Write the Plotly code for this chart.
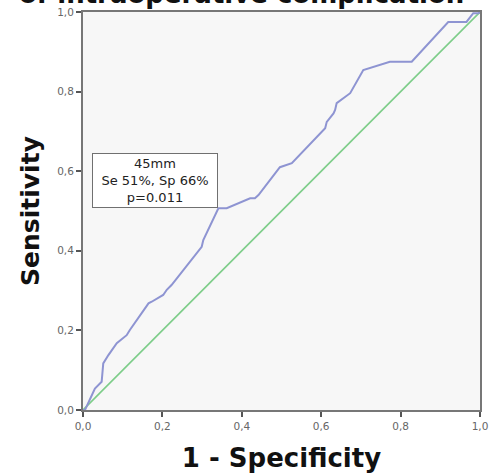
import plotly.graph_objects as go

# ROC curve
fpr = [0, 0.005, 0.030, 0.047, 0.051, 0.064, 0.085, 0.11, 0.118, 0.165, 0.173, 0.202,
       0.211, 0.223, 0.299, 0.303, 0.341, 0.362, 0.421, 0.433, 0.442, 0.496, 0.526,
       0.610, 0.614, 0.626, 0.631, 0.635, 0.639, 0.673, 0.706, 0.773, 0.828, 0.920,
       0.966, 0.983, 0.996, 1.0]
tpr = [0, 0, 0.054, 0.071, 0.117, 0.138, 0.168, 0.188, 0.201, 0.268, 0.272, 0.289,
       0.302, 0.314, 0.410, 0.427, 0.507, 0.507, 0.532, 0.532, 0.540, 0.610, 0.620,
       0.708, 0.724, 0.737, 0.745, 0.754, 0.771, 0.796, 0.854, 0.875, 0.875, 0.975,
       0.975, 0.997, 0.997, 1.0]

# reference diagonal
diag_x = [0, 1]
diag_y = [0, 1]

# cut-off point (1 - Sp, Se)
cut_fpr = 0.34
cut_tpr = 0.507
cut_label = "45mm<br>Se 51%, Sp 66%<br>p=0.011"

tick_vals = [0, 0.2, 0.4, 0.6, 0.8, 1.0]
tick_text = ["0,0", "0,2", "0,4", "0,6", "0,8", "1,0"]

title_text = "of intraoperative complication"
x_title = "1 - Specificity"
y_title = "Sensitivity"

fig = go.Figure()
fig.add_trace(go.Scatter(x=diag_x, y=diag_y, mode="lines",
                         line=dict(color="#7dcd89", width=1.6), showlegend=False))
fig.add_trace(go.Scatter(x=fpr, y=tpr, mode="lines",
                         line=dict(color="#8e94d2", width=2), showlegend=False))

fig.add_annotation(x=cut_fpr, y=cut_tpr, xref="x", yref="y", text=cut_label,
                   showarrow=False, xanchor="right", yanchor="bottom",
                   width=124, height=53, align="center", valign="middle",
                   bgcolor="white", bordercolor="#707070", borderwidth=1, borderpad=0,
                   font=dict(family="DejaVu Sans", size=13, color="#222"))

fig.add_annotation(x=0.40, y=1, xref="paper", yref="paper", text="<b>" + title_text + "</b>",
                   showarrow=False, xanchor="center", yanchor="bottom", yshift=1,
                   font=dict(family="DejaVu Sans", size=26, color="#111"))

axis_common = dict(range=[0, 1], tickvals=tick_vals, ticktext=tick_text,
                   showgrid=False, zeroline=False, showline=True, mirror=True,
                   linecolor="#777777", linewidth=2, ticks="outside", ticklen=5,
                   tickwidth=1.5, tickcolor="#555555", automargin=False,
                   tickfont=dict(family="DejaVu Sans", size=10.5, color="#666666"))

fig.update_xaxes(**axis_common,
                 title=dict(text="<b>" + x_title + "</b>", standoff=18,
                            font=dict(family="DejaVu Sans", size=26, color="#111")))
fig.update_yaxes(**axis_common,
                 title=dict(text="<b>" + y_title + "</b>", standoff=10,
                            font=dict(family="DejaVu Sans", size=25, color="#111")))

fig.update_layout(width=491, height=474,
                  margin=dict(l=83, r=11, t=12, b=64),
                  paper_bgcolor="white", plot_bgcolor="#f7f7f7")

fig.write_html("out.html", config={"displayModeBar": False},
               post_script="document.body.style.margin='0';document.body.style.overflow='hidden';")
